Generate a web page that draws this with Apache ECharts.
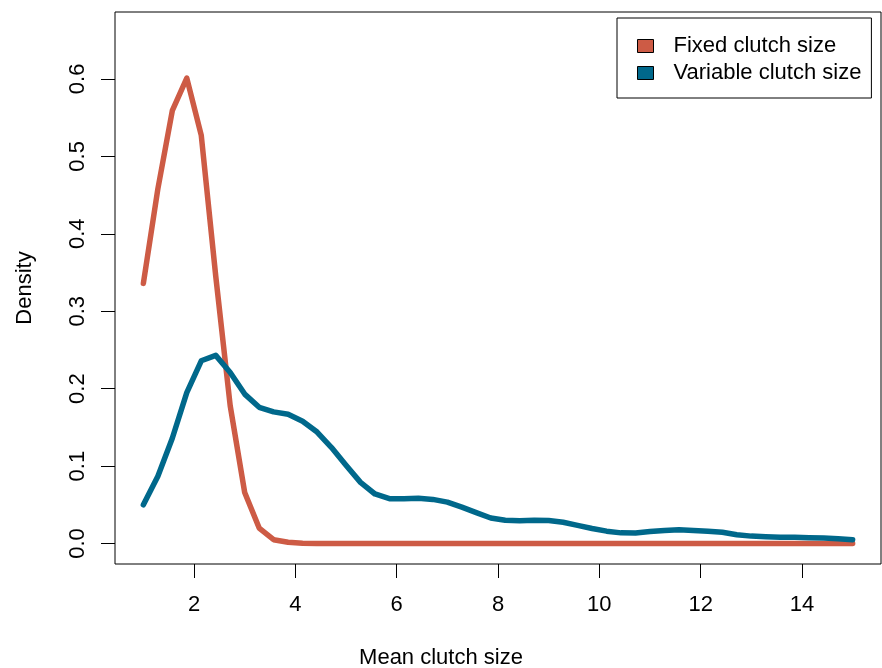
<!DOCTYPE html>
<html>
<head>
<meta charset="utf-8">
<script src="https://cdn.jsdelivr.net/npm/echarts@6/dist/echarts.min.js"></script>
<style>
html,body{margin:0;padding:0;background:#fff;}
#chart{width:882px;height:668px;}
</style>
</head>
<body>
<div id="chart"></div>
<script>
// Mean clutch size grid (x values)
var xValues = [1, 1.286, 1.571, 1.857, 2.143, 2.429, 2.714, 3, 3.286, 3.571, 3.857,
  4.143, 4.429, 4.714, 5, 5.286, 5.571, 5.857, 6.143, 6.429, 6.714, 7,
  7.286, 7.571, 7.857, 8.143, 8.429, 8.714, 9, 9.286, 9.571, 9.857,
  10.143, 10.429, 10.714, 11, 11.286, 11.571, 11.857, 12.143, 12.429, 12.714,
  13, 13.286, 13.571, 13.857, 14.143, 14.429, 14.714, 15];

// Density, fixed clutch size
var fixedDensity = [0.336, 0.458, 0.559, 0.601, 0.527, 0.345, 0.178, 0.066, 0.020, 0.005,
  0.0017, 0.0005, 0.0002, 0, 0, 0, 0, 0, 0, 0,
  0, 0, 0, 0, 0, 0, 0, 0, 0, 0,
  0, 0, 0, 0, 0, 0, 0, 0, 0, 0,
  0, 0, 0, 0, 0, 0, 0, 0, 0, 0];

// Density, variable clutch size
var variableDensity = [0.050, 0.087, 0.136, 0.195, 0.236, 0.243, 0.221, 0.193, 0.176, 0.170,
  0.167, 0.158, 0.144, 0.124, 0.101, 0.079, 0.064, 0.058, 0.058, 0.0585,
  0.057, 0.0535, 0.047, 0.040, 0.033, 0.030, 0.0295, 0.030, 0.0298, 0.0275,
  0.0235, 0.0195, 0.016, 0.0138, 0.0137, 0.0155, 0.017, 0.0177, 0.017, 0.016,
  0.0145, 0.0114, 0.0096, 0.0088, 0.0083, 0.008, 0.0076, 0.0072, 0.0063, 0.0048];

var seriesNames = ['Fixed clutch size', 'Variable clutch size'];
var xTicks = [2, 4, 6, 8, 10, 12, 14];
var yTicks = [0, 0.1, 0.2, 0.3, 0.4, 0.5, 0.6];
var xTitle = 'Mean clutch size';
var yTitle = 'Density';

var FONT = '"Liberation Sans", Arial, Helvetica, sans-serif';
var RED = '#CD5B45';
var BLUE = '#00688B';

function pairs(xs, ys) {
  return xs.map(function (x, i) { return [x, ys[i]]; });
}

var chart = echarts.init(document.getElementById('chart'), null, {renderer: 'canvas'});
chart.setOption({
  backgroundColor: '#ffffff',
  animation: false,
  grid: {
    left: 115, right: 1, top: 12, bottom: 104,
    show: true, borderColor: '#000', borderWidth: 1, backgroundColor: 'transparent'
  },
  xAxis: {
    type: 'value', min: 0.44, max: 15.56,
    axisLine: {show: false, onZero: false},
    splitLine: {show: false},
    axisTick: {show: true, length: 14, inside: false, customValues: xTicks,
      lineStyle: {color: '#000', width: 1}},
    axisLabel: {show: true, customValues: xTicks, margin: 30, fontSize: 22,
      color: '#000', fontFamily: FONT, verticalAlign: 'top'}
  },
  yAxis: {
    type: 'value', min: -0.0264, max: 0.6864,
    axisLine: {show: false, onZero: false},
    splitLine: {show: false},
    axisTick: {show: true, length: 14, inside: false, customValues: yTicks,
      lineStyle: {color: '#000', width: 1}},
    axisLabel: {show: true, customValues: yTicks, margin: 26, fontSize: 22,
      rotate: 90, align: 'center', verticalAlign: 'bottom',
      color: '#000', fontFamily: FONT,
      formatter: function (v) { return v.toFixed(1); }}
  },
  legend: {
    show: true, orient: 'vertical', left: 617, top: 18,
    padding: [14.5, 10, 11.5, 20],
    borderColor: '#000', borderWidth: 1, backgroundColor: '#fff',
    itemWidth: 16, itemHeight: 13, itemGap: 0,
    icon: 'rect',
    itemStyle: {borderColor: '#000', borderWidth: 1},
    textStyle: {fontSize: 22, color: '#000', fontFamily: FONT, lineHeight: 27,
      padding: [0, 0, 0, 15]},
    data: seriesNames
  },
  graphic: [
    {type: 'text', left: 'center', top: 647,
      style: {text: xTitle, fontSize: 22, fill: '#000', fontFamily: FONT}, silent: true},
    {type: 'text', x: 25, y: 288, rotation: Math.PI / 2,
      style: {text: yTitle, fontSize: 22, fill: '#000', fontFamily: FONT,
        align: 'center', verticalAlign: 'middle'}, silent: true}
  ],
  series: [
    {name: seriesNames[0], type: 'line', data: pairs(xValues, fixedDensity),
      showSymbol: false, symbol: 'none', smooth: false, color: RED,
      lineStyle: {color: RED, width: 5.5, cap: 'round', join: 'round'}, z: 2},
    {name: seriesNames[1], type: 'line', data: pairs(xValues, variableDensity),
      showSymbol: false, symbol: 'none', smooth: false, color: BLUE,
      lineStyle: {color: BLUE, width: 5.5, cap: 'round', join: 'round'}, z: 3}
  ]
});
</script>
</body>
</html>
